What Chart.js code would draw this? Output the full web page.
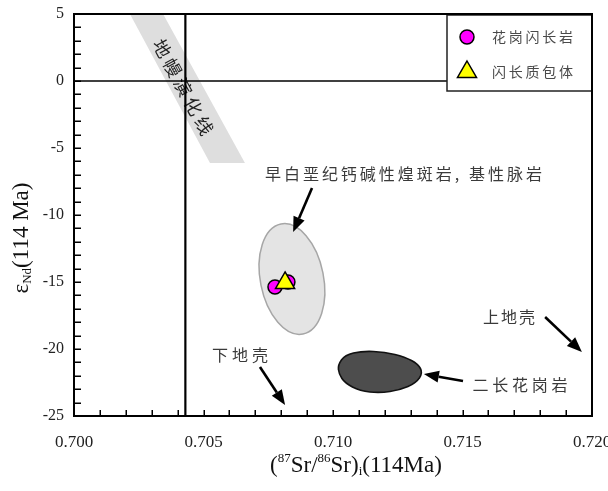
<!DOCTYPE html>
<html>
<head>
<meta charset="utf-8">
<script src="https://cdn.jsdelivr.net/npm/chart.js@4.4.1/dist/chart.umd.min.js"></script>
<style>
html, body { margin: 0; padding: 0; background: #fff; }
#wrap { width: 608px; height: 491px; }
</style>
</head>
<body>
<div id="wrap"><canvas id="chart"></canvas></div>
<script>
// axis ranges / ticks
const xRange = [0.700, 0.720];
const yRange = [-25, 5];
const xStep = 0.005, xMinor = 0.001;
const yStep = 5, yMinor = 1;

// samples
const granodiorite = [{x: 0.70776, y: -15.37}, {x: 0.70826, y: -15.0}];
const dioriticEnclave = [{x: 0.70815, y: -15.07}];

// reference lines
const bulkEarthSr = 0.7043;
const chur = 0;

// fields
const mantleBand = [[0.70216, 5], [0.70344, 5], [0.70660, -6.12], [0.70525, -6.12]];
const lamprophyreField = {top: [0.70799, -10.67], bottom: [0.70884, -18.88], halfWidth: 0.00122};
const monzograniteField = [
	[0.71019, -21.19], [0.71046, -20.45], [0.71112, -20.15], [0.71200, -20.22],
	[0.71278, -20.60], [0.71328, -21.12], [0.71347, -21.79], [0.71320, -22.54],
	[0.71259, -23.06], [0.71181, -23.28], [0.71104, -23.13], [0.71046, -22.54],
	[0.71023, -21.87]
];

// annotation texts and arrows (data units)
const notes = [
	{text: '早白垩纪钙碱性煌斑岩, 基性脉岩', at: [0.70737, -6.94]},
	{text: '下地壳', at: [0.70641, -20.45]},
	{text: '上地壳', at: [0.71680, -17.61]},
	{text: '二长花岗岩', at: [0.71722, -22.69]}
];
const arrows = [
	[[0.70919, -7.99], [0.70846, -11.27]],
	[[0.70718, -21.34], [0.70815, -24.18]],
	[[0.71819, -17.61], [0.71961, -20.22]],
	[[0.71502, -22.39], [0.71351, -21.87]]
];
const bandLabel = {text: '地幔演化线', at: [0.70421, -0.45]};
const legendNames = ['花岗闪长岩', '闪长质包体'];

// text widths (px) used to space the CJK glyphs like the original
const noteWidths = [277, 56, 52, 95];
const CJK = '"Noto Sans CJK SC", "Noto Sans", sans-serif';
const SERIF = '"Liberation Serif", "DejaVu Serif", serif';

function spacedText(ctx, str, x, y, targetW, align) {
	ctx.letterSpacing = '0px';
	const w = ctx.measureText(str).width;
	const n = [...str].length;
	const sp = targetW ? Math.max(0, (targetW - w) / (n - 1)) : 0;
	const total = w + sp * (n - 1);
	ctx.letterSpacing = sp + 'px';
	ctx.textAlign = 'left';
	const sx = align === 'center' ? x - total / 2 : x;
	ctx.fillText(str, sx, y);
	ctx.letterSpacing = '0px';
}

function drawArrow(ctx, x1, y1, x2, y2) {
	const a = Math.atan2(y2 - y1, x2 - x1);
	const hl = 15, hw = 6;
	const bx = x2 - Math.cos(a) * hl, by = y2 - Math.sin(a) * hl;
	ctx.beginPath();
	ctx.moveTo(x1, y1);
	ctx.lineTo(bx, by);
	ctx.lineWidth = 2.6;
	ctx.strokeStyle = '#000';
	ctx.stroke();
	ctx.beginPath();
	ctx.moveTo(x2, y2);
	ctx.lineTo(bx + Math.sin(a) * hw, by - Math.cos(a) * hw);
	ctx.lineTo(bx - Math.sin(a) * hw, by + Math.cos(a) * hw);
	ctx.closePath();
	ctx.fillStyle = '#000';
	ctx.fill();
}

function smoothClosed(ctx, pts) {
	const n = pts.length;
	const mid = (a, b) => [(a[0] + b[0]) / 2, (a[1] + b[1]) / 2];
	const m = mid(pts[n - 1], pts[0]);
	ctx.moveTo(m[0], m[1]);
	for (let i = 0; i < n; i++) {
		const p = pts[i], q = pts[(i + 1) % n];
		const mm = mid(p, q);
		ctx.quadraticCurveTo(p[0], p[1], mm[0], mm[1]);
	}
	ctx.closePath();
}

// pieces: [text, size, dy]
function drawPieces(ctx, pieces, cx, cy) {
	let total = 0;
	pieces.forEach(p => { ctx.font = p[1] + 'px ' + SERIF; total += ctx.measureText(p[0]).width; });
	let x = cx - total / 2;
	ctx.textBaseline = 'middle';
	ctx.textAlign = 'left';
	pieces.forEach(p => {
		ctx.font = p[1] + 'px ' + SERIF;
		ctx.fillText(p[0], x, cy + p[2]);
		x += ctx.measureText(p[0]).width;
	});
}

const shapes = {
	id: 'shapes',
	beforeDatasetsDraw(chart) {
		const {ctx, chartArea: ca, scales: {x, y}} = chart;
		const P = d => [x.getPixelForValue(d[0]), y.getPixelForValue(d[1])];
		ctx.save();
		ctx.beginPath();
		ctx.rect(ca.left, ca.top, ca.right - ca.left, ca.bottom - ca.top);
		ctx.clip();

		// mantle evolution band
		ctx.beginPath();
		mantleBand.map(P).forEach((p, i) => i ? ctx.lineTo(p[0], p[1]) : ctx.moveTo(p[0], p[1]));
		ctx.closePath();
		ctx.fillStyle = '#dedede';
		ctx.fill();

		// band label
		const b = P(bandLabel.at);
		ctx.save();
		ctx.translate(b[0], b[1]);
		ctx.rotate(Math.atan2(149, 81));
		ctx.font = '18px ' + CJK;
		ctx.fillStyle = '#222';
		ctx.textBaseline = 'middle';
		spacedText(ctx, bandLabel.text, 0, 0, 106, 'center');
		ctx.restore();

		// lamprophyre field
		const t = P(lamprophyreField.top), bt = P(lamprophyreField.bottom);
		const cx = (t[0] + bt[0]) / 2, cy = (t[1] + bt[1]) / 2;
		const ra = Math.hypot(bt[0] - t[0], bt[1] - t[1]) / 2;
		const rb = x.getPixelForValue(lamprophyreField.top[0] + lamprophyreField.halfWidth) - x.getPixelForValue(lamprophyreField.top[0]);
		ctx.beginPath();
		ctx.ellipse(cx, cy, ra, rb, Math.atan2(bt[1] - t[1], bt[0] - t[0]), 0, Math.PI * 2);
		ctx.fillStyle = '#e4e4e4';
		ctx.fill();
		ctx.lineWidth = 1.5;
		ctx.strokeStyle = '#a6a6a6';
		ctx.stroke();

		// monzogranite field
		ctx.beginPath();
		smoothClosed(ctx, monzograniteField.map(P));
		ctx.fillStyle = '#4d4d4d';
		ctx.fill();
		ctx.lineWidth = 1.6;
		ctx.strokeStyle = '#111';
		ctx.stroke();
		ctx.restore();
	},
	afterDatasetsDraw(chart) {
		const {ctx, chartArea: ca, scales: {x, y}} = chart;
		const P = d => [x.getPixelForValue(d[0]), y.getPixelForValue(d[1])];
		ctx.save();

		// notes + arrows
		ctx.font = '16px ' + CJK;
		ctx.fillStyle = '#3a3a3a';
		ctx.textBaseline = 'middle';
		notes.forEach((n, i) => {
			const p = P(n.at);
			spacedText(ctx, n.text, p[0], p[1], noteWidths[i], i === 0 ? 'left' : 'center');
		});
		arrows.forEach(a => {
			const s = P(a[0]), e = P(a[1]);
			drawArrow(ctx, s[0], s[1], e[0], e[1]);
		});

		// legend box
		const lx = ca.right - 145, ly = ca.top + 1, lw = 145, lh = 76;
		ctx.fillStyle = '#fff';
		ctx.fillRect(lx, ly, lw, lh);
		ctx.lineWidth = 1.5;
		ctx.strokeStyle = '#222';
		ctx.strokeRect(lx, ly, lw, lh);
		const ds = chart.data.datasets;
		[0, 1].forEach(i => {
			const d = ds.find(s => s.label === legendNames[i]);
			const yy = ly + 22 + i * 35;
			ctx.fillStyle = d.backgroundColor;
			ctx.strokeStyle = d.borderColor;
			ctx.lineWidth = d.borderWidth;
			ctx.beginPath();
			if (d.pointStyle === 'circle') {
				ctx.arc(lx + 20, yy, d.pointRadius, 0, Math.PI * 2);
			} else {
				const r = d.pointRadius;
				ctx.moveTo(lx + 20, yy - r);
				ctx.lineTo(lx + 20 + r * 0.866, yy + r / 2);
				ctx.lineTo(lx + 20 - r * 0.866, yy + r / 2);
				ctx.closePath();
			}
			ctx.fill();
			ctx.stroke();
			ctx.font = '14px ' + CJK;
			ctx.fillStyle = '#4a4a4a';
			ctx.textBaseline = 'middle';
			spacedText(ctx, legendNames[i], lx + 45, yy, 81, 'left');
		});
		ctx.restore();
	},
	afterDraw(chart) {
		const {ctx, chartArea: ca, scales: {x, y}} = chart;
		ctx.save();
		ctx.strokeStyle = '#000';
		// inward minor ticks
		ctx.lineWidth = 1.5;
		ctx.beginPath();
		for (let v = yRange[0]; v <= yRange[1] + 1e-9; v += yMinor) {
			const p = Math.round(y.getPixelForValue(v)) + 0.25;
			ctx.moveTo(ca.left, p);
			ctx.lineTo(ca.left + 7, p);
		}
		for (let i = 0; i <= Math.round((xRange[1] - xRange[0]) / xMinor); i++) {
			const p = Math.round(x.getPixelForValue(xRange[0] + i * xMinor)) + 0.25;
			ctx.moveTo(p, ca.bottom);
			ctx.lineTo(p, ca.bottom - 6);
		}
		ctx.stroke();
		// frame
		ctx.lineWidth = 2;
		ctx.strokeRect(ca.left, ca.top, ca.right - ca.left, ca.bottom - ca.top);

		// axis titles
		ctx.fillStyle = '#111';
		drawPieces(ctx, [['(', 23, 0], ['87', 13, -7], ['Sr/', 23, 0], ['86', 13, -7], ['Sr)', 23, 0], ['i', 13, 6], ['(114Ma)', 23, 0]],
			ca.left + (ca.right - ca.left) / 2 + 23, 466);
		ctx.save();
		ctx.translate(22, 238);
		ctx.rotate(-Math.PI / 2);
		drawPieces(ctx, [['ε', 23, 0], ['Nd', 13, 6], ['(114 Ma)', 23, 0]], 0, 0);
		ctx.restore();
		ctx.restore();
	}
};

new Chart(document.getElementById('chart'), {
	type: 'scatter',
	data: {
		datasets: [
			{
				label: legendNames[1],
				data: dioriticEnclave,
				pointStyle: 'triangle',
				pointRadius: 11,
				backgroundColor: '#ffff00',
				borderColor: '#000',
				borderWidth: 1.5,
				order: 0
			}, {
				label: legendNames[0],
				data: granodiorite,
				pointStyle: 'circle',
				pointRadius: 7,
				backgroundColor: '#ff00ff',
				borderColor: '#000',
				borderWidth: 1.5,
				order: 1
			}, {
				label: 'Sr',
				data: [{x: bulkEarthSr, y: yRange[0]}, {x: bulkEarthSr, y: yRange[1]}],
				showLine: true,
				pointRadius: 0,
				borderColor: '#000',
				borderWidth: 2.2,
				order: 2
			}, {
				label: 'Nd',
				data: [{x: xRange[0], y: chur}, {x: xRange[1], y: chur}],
				showLine: true,
				pointRadius: 0,
				borderColor: '#000',
				borderWidth: 1.5,
				order: 2
			}
		]
	},
	options: {
		responsive: true,
		maintainAspectRatio: false,
		animation: false,
		layout: {padding: {left: 0, right: 16, top: 14, bottom: 0}},
		plugins: {legend: {display: false}, tooltip: {enabled: false}},
		scales: {
			x: {
				type: 'linear',
				min: xRange[0],
				max: xRange[1],
				afterFit: s => { s.height = 75; s.paddingLeft = 0; s.paddingRight = 0; },
				afterBuildTicks: s => { s.ticks = [0, 1, 2, 3, 4].map(i => ({value: xRange[0] + i * xStep})); },
				grid: {display: false},
				border: {display: false},
				ticks: {
					padding: 8,
					color: '#222',
					font: {family: SERIF, size: 17},
					callback: v => v.toFixed(3)
				}
			},
			y: {
				min: yRange[0],
				max: yRange[1],
				afterFit: s => { s.width = 74; s.paddingTop = 0; s.paddingBottom = 0; },
				grid: {display: false},
				border: {display: false},
				ticks: {
					stepSize: yStep,
					padding: 2,
					color: '#222',
					font: {family: SERIF, size: 16}
				}
			}
		}
	},
	plugins: [shapes]
});
</script>
</body>
</html>
